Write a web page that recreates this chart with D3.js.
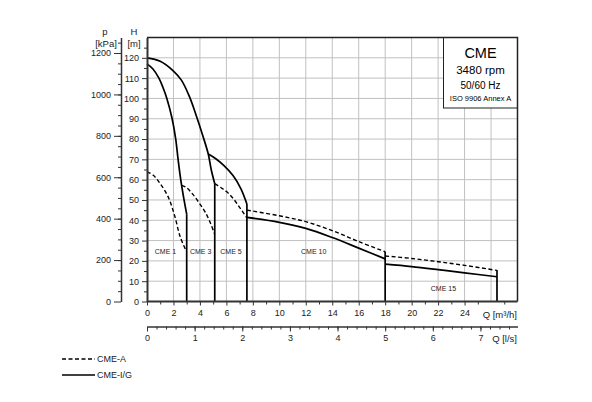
<!DOCTYPE html>
<html>
<head>
<meta charset="utf-8">
<script src="https://cdn.jsdelivr.net/npm/d3@7"></script>
<style>
  body { margin: 0; background: #fff; }
  svg { display: block; font-family: "Liberation Sans", Arial, sans-serif; }
</style>
</head>
<body>
<svg id="chart" width="592" height="402"></svg>
<script>
// Flow Q [m3/h] and head H [m]
const cme1IG = [[0, 117], [0.45, 114.5], [0.9, 110], [1.2, 105.5], [1.5, 100], [1.9, 90], [2.17, 80], [2.35, 70], [2.55, 60], [2.8, 50], [3.0, 43]]
const cme1A = [[0, 64], [0.5, 62], [1.0, 58], [1.6, 51.5], [2.1, 42], [2.5, 32], [2.95, 25]]
const cme3IG = [[0, 120], [1, 118.3], [2, 113.5], [2.6, 109], [3.2, 101], [3.7, 92], [4.2, 82], [4.63, 72.6], [4.85, 65], [5.12, 58]]
const cme3A = [[2.62, 57.2], [3.0, 56], [3.5, 52.5], [4.0, 48], [4.4, 44], [4.8, 38.5], [5.12, 33]]
const cme5IG = [[4.63, 72.6], [5.2, 70.3], [5.8, 67], [6.5, 62], [7.1, 55.5], [7.55, 48]]
const cme5A = [[5.12, 58], [5.6, 56], [6.03, 54], [6.5, 50.8], [6.9, 47.3], [7.2, 44.5], [7.5, 41.5]]
const cme10IG = [[7.55, 41.4], [10, 39], [12, 36], [14, 31.5], [16, 26.3], [18, 21]]
const cme10A = [[7.55, 45], [10, 42.2], [12, 39.3], [14, 34.9], [16, 29.5], [18, 24.5]]
const cme15IG = [[18, 18.4], [20, 17.2], [22, 15.7], [24, 14.1], [26.45, 12.2]]
const cme15A = [[18, 22.4], [20, 21.2], [22, 19.6], [24, 17.8], [26.45, 15.3]]

// end-of-curve drop lines
const dropQ = [3.0, 5.12, 7.55, 18, 26.45]
const dropH = [43, 58, 48, 24.5, 15.5]

// model labels
const modelNames = ['CME 1', 'CME 3', 'CME 5', 'CME 10', 'CME 15']
const labelQ = [1.4, 4.05, 6.35, 12.6, 22.4]
const labelH = [24.5, 24.5, 24.5, 24.5, 6.5]

const infoLines = ['CME', '3480 rpm', '50/60 Hz', 'ISO 9906 Annex A']

const svg = d3.select('#chart')

// plot frame
const plotL = 147, plotR = 517.5, plotT = 37.5, plotB = 301.5
const x = d3.scaleLinear().domain([0, 28]).range([plotL, plotR])
const y = d3.scaleLinear().domain([0, 130]).range([plotB, plotT])
const p = d3.scaleLinear().domain([0, 130 * 9.807]).range([plotB, plotT])
const qls = d3.scaleLinear().domain([0, 28 / 3.6]).range([plotL, plotR])

// grid
const grid = svg.append('g').attr('stroke', '#c0c0c0').attr('stroke-width', 1)
grid.selectAll('.gx')
  .data(d3.range(2, 28, 2))
  .enter().append('line')
  .attr('x1', d => x(d)).attr('x2', d => x(d))
  .attr('y1', plotT).attr('y2', plotB)
grid.selectAll('.gy')
  .data(d3.range(10, 130, 10))
  .enter().append('line')
  .attr('x1', plotL).attr('x2', plotR)
  .attr('y1', d => y(d)).attr('y2', d => y(d))

// info box covers grid
const box = svg.append('g')
box.append('rect')
  .attr('x', 443.5).attr('y', plotT).attr('width', plotR - 443.5).attr('height', 70.5)
  .attr('fill', '#fff').attr('stroke', '#222').attr('stroke-width', 1)
const infoSize = [14.5, 11.5, 10, 7.5]
const infoY = [58, 74, 89, 101]
box.selectAll('text')
  .data(infoLines)
  .enter().append('text')
  .attr('x', 480.5)
  .attr('y', (d, i) => infoY[i])
  .attr('text-anchor', 'middle')
  .style('font-size', (d, i) => infoSize[i] + 'px')
  .text(d => d)

// curves
const line = d3.line()
  .x(d => x(d[0]))
  .y(d => y(d[1]))
  .curve(d3.curveCatmullRom.alpha(0.5))

const solid = [cme1IG, cme3IG, cme5IG, cme10IG, cme15IG]
const dashed = [cme1A, cme3A, cme5A, cme10A, cme15A]
const curves = svg.append('g').attr('fill', 'none').attr('stroke', '#000')

solid.forEach(s => {
  curves.append('path')
    .attr('d', line(s))
    .attr('stroke-width', 1.7)
})
dashed.forEach(s => {
  curves.append('path')
    .attr('d', line(s))
    .attr('stroke-width', 1.4)
    .attr('stroke-dasharray', '4,2.5')
})
curves.selectAll('.drop')
  .data(dropQ)
  .enter().append('line')
  .attr('x1', d => x(d)).attr('x2', d => x(d))
  .attr('y1', (d, i) => y(dropH[i])).attr('y2', y(0))
  .attr('stroke-width', 1.7)

svg.append('g').selectAll('text')
  .data(modelNames)
  .enter().append('text')
  .attr('x', (d, i) => x(labelQ[i]))
  .attr('y', (d, i) => y(labelH[i]) + 2.5)
  .attr('text-anchor', 'middle')
  .style('font-size', '7px')
  .attr('fill', '#222')
  .text(d => d)

// top and right frame
svg.append('path')
  .attr('d', `M${plotL},${plotT}H${plotR}V${plotB}`)
  .attr('fill', 'none').attr('stroke', '#222').attr('stroke-width', 1.5)

function styleAxis(g, width) {
  g.select('.domain').attr('stroke', '#333').attr('stroke-width', width)
  g.selectAll('.tick line').attr('stroke', '#333').attr('stroke-width', 1)
  g.selectAll('.tick text').style('font-size', '9px').attr('fill', '#222')
}

// H axis
const hMinor = svg.append('g').attr('transform', `translate(${plotL},0)`)
  .call(d3.axisLeft(y).tickValues(d3.range(5, 130, 10)).tickSize(3).tickFormat(''))
hMinor.select('.domain').remove()
styleAxis(hMinor, 0)
const hAxis = svg.append('g').attr('transform', `translate(${plotL},0)`)
  .call(d3.axisLeft(y).tickValues(d3.range(0, 121, 10)).tickSize(5).tickPadding(3).tickSizeOuter(0))
styleAxis(hAxis, 2)

// p axis
const pMinor = svg.append('g').attr('transform', 'translate(121,0)')
  .call(d3.axisLeft(p).tickValues(d3.range(50, 1275, 50)).tickSize(3).tickFormat(''))
pMinor.select('.domain').remove()
styleAxis(pMinor, 0)
const pAxis = svg.append('g').attr('transform', 'translate(121,0)')
  .call(d3.axisLeft(p).tickValues(d3.range(0, 1201, 200)).tickSize(7).tickPadding(3)
    .tickSizeOuter(0).tickFormat(d3.format('d')))
styleAxis(pAxis, 1.5)

// Q m3/h axis
const qMinor = svg.append('g').attr('transform', `translate(0,${plotB})`)
  .call(d3.axisBottom(x).tickValues(d3.range(1, 28, 2)).tickSize(3).tickFormat(''))
qMinor.select('.domain').remove()
styleAxis(qMinor, 0)
const qAxis = svg.append('g').attr('transform', `translate(0,${plotB})`)
  .call(d3.axisBottom(x).tickValues(d3.range(0, 25, 2)).tickSize(4).tickPadding(4).tickSizeOuter(0))
styleAxis(qAxis, 2)
qAxis.select('.domain').attr('d', `M${plotL},0H${plotR}`)

// Q l/s axis
const lsY = 326.5
const lsMinor = svg.append('g').attr('transform', `translate(0,${lsY})`)
  .call(d3.axisBottom(qls).tickValues(d3.range(0.2, 7.78, 0.2)).tickSize(3).tickFormat(''))
lsMinor.select('.domain').remove()
styleAxis(lsMinor, 0)
const lsAxis = svg.append('g').attr('transform', `translate(0,${lsY})`)
  .call(d3.axisBottom(qls).tickValues(d3.range(0, 8, 1)).tickSize(5).tickPadding(3).tickSizeOuter(0))
styleAxis(lsAxis, 1.5)

// axis titles
const titles = svg.append('g').style('font-size', '9.5px').attr('fill', '#222')
titles.append('text').attr('x', 105).attr('y', 35).attr('text-anchor', 'middle').text('p')
titles.append('text').attr('x', 106).attr('y', 47).attr('text-anchor', 'middle').text('[kPa]')
titles.append('text').attr('x', 134).attr('y', 35).attr('text-anchor', 'middle').text('H')
titles.append('text').attr('x', 134).attr('y', 47).attr('text-anchor', 'middle').text('[m]')
titles.append('text').attr('x', 517).attr('y', 317.5).attr('text-anchor', 'end').text('Q [m³/h]')
titles.append('text').attr('x', 517).attr('y', 342).attr('text-anchor', 'end').text('Q [l/s]')

// legend
const legendLabels = ['CME-A', 'CME-I/G']
const legend = svg.append('g')
legend.selectAll('line')
  .data(legendLabels)
  .enter().append('line')
  .attr('x1', 62).attr('x2', 95)
  .attr('y1', (d, i) => 359 + i * 16).attr('y2', (d, i) => 359 + i * 16)
  .attr('stroke', '#000')
  .attr('stroke-width', (d, i) => i ? 1.7 : 1.4)
  .attr('stroke-dasharray', (d, i) => i ? null : '4,2.5')
legend.selectAll('text')
  .data(legendLabels)
  .enter().append('text')
  .attr('x', 97)
  .attr('y', (d, i) => 362 + i * 16)
  .style('font-size', '9px')
  .attr('fill', '#222')
  .text(d => d)
</script>
</body>
</html>
